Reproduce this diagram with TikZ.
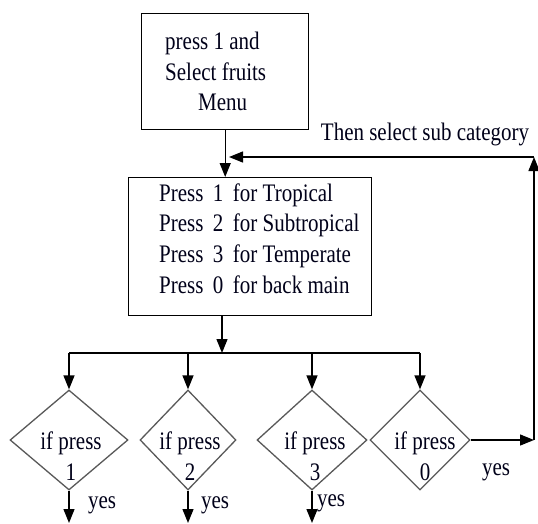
\documentclass[tikz,border=0pt]{standalone}
\usepackage{fontspec}
\setmainfont{Liberation Serif}
\usetikzlibrary{shapes.geometric,arrows.meta}
\newcommand{\ys}[1]{\scalebox{1}[1.2]{#1}}
\newcommand{\gp}{\hspace{0.45em}}
\begin{document}
\begin{tikzpicture}[x=1pt,y=-1pt,
  box/.style={draw=black,line width=1.4pt,rectangle,inner sep=0pt,anchor=north west},
  dec/.style={draw=black!65,line width=1.3pt,diamond,inner sep=0pt},
  txt/.style={inner sep=0pt,font=\fontsize{21}{25.6}\selectfont,text=black!90!blue},
  arr/.style={line width=1.3pt,-{Triangle[length=14pt,width=11pt]}},
  ln/.style={line width=1.3pt}]
\useasboundingbox[fill=white] (0,0) rectangle (538,523);
% boxes
\node[box,minimum width=167,minimum height=116] (top) at (141,13) {};
\node[txt,anchor=west] (toptext) at (165,74) {\ys{\begin{tabular}{@{}l@{}}press 1 and\\Select fruits\\\hspace{33pt}Menu\end{tabular}}};
\node[box,minimum width=243,minimum height=138] (menu) at (128,177) {};
\node[txt,anchor=west] (menutext) at (159,241) {\ys{\begin{tabular}{@{}l@{}}Press\gp 1\gp for Tropical\\Press\gp 2\gp for Subtropical\\Press\gp 3\gp for Temperate\\Press\gp 0\gp for back main\end{tabular}}};
% diamonds
\node[dec,minimum width=118,minimum height=100] (d1) at (69,440) {};
\node[dec,minimum width=96,minimum height=100] (d2) at (188,440) {};
\node[dec,minimum width=110,minimum height=100] (d3) at (312,440) {};
\node[dec,minimum width=100,minimum height=100] (d0) at (420,440) {};
\node[txt] (t1) at (71,459) {\ys{\begin{tabular}{@{}c@{}}if press\\1\end{tabular}}};
\node[txt] (t2) at (190,459) {\ys{\begin{tabular}{@{}c@{}}if press\\2\end{tabular}}};
\node[txt] (t3) at (315,459) {\ys{\begin{tabular}{@{}c@{}}if press\\3\end{tabular}}};
\node[txt] (t0) at (425,459) {\ys{\begin{tabular}{@{}c@{}}if press\\0\end{tabular}}};
% labels
\node[txt] (then) at (425,134) {\ys{Then select sub category}};
\node[txt] (y1) at (102,505) {\ys{yes}};
\node[txt] (y2) at (215,505) {\ys{yes}};
\node[txt] (y3) at (331,503) {\ys{yes}};
\node[txt] (y0) at (496,472) {\ys{yes}};
% connectors
\draw[arr] (top.south) -- (top.south |- menu.north);
\coordinate (bus) at (222,353);
\draw[arr] (menu.south -| bus) -- (bus);
\draw[ln] (d1.north |- bus) -- (d0.north |- bus);
\foreach \d in {d1,d2,d3,d0} \draw[arr] (\d.north |- bus) -- (\d.north);
\coordinate (e1) at (69,523);
\coordinate (e2) at (188,523);
\coordinate (e3) at (312,523);
\draw[arr] (d1.south) -- (e1);
\draw[arr] (d2.south) -- (e2);
\draw[arr] (d3.south) -- (e3);
\coordinate (r1) at (534,440);
\coordinate (corner) at (534,157);
\coordinate (fend) at (229,157);
\draw[arr] (d0.east) -- (r1);
\draw[arr] (r1) -- (corner);
\draw[arr] (corner) -- (fend);
\end{tikzpicture}
\end{document}
